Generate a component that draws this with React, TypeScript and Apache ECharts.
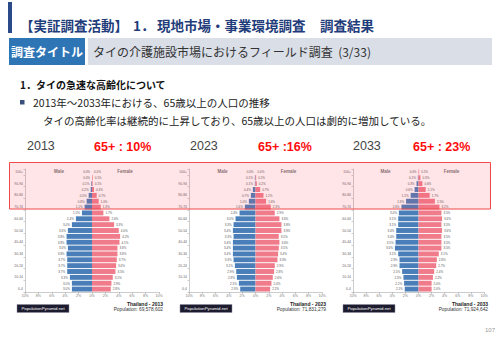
import { useEffect, useRef } from 'react';
import * as echarts from 'echarts';

// Age groups from bottom (0-4) to top (100+)
const ageGroups = ['0-4', '5-9', '10-14', '15-19', '20-24', '25-29', '30-34', '35-39', '40-44', '45-49', '50-54', '55-59', '60-64', '65-69', '70-74', '75-79', '80-84', '85-89', '90-94', '95-99', '100+'];

const years = ['2013', '2023', '2033'];
const elderlyShare = ['65+ : 10%', '65+ :16%', '65+ : 23%'];
const populations = ['69,578,602', '71,831,279', '71,924,642'];

// % of total population, bottom (0-4) to top (100+)
const male2013 = [3.0, 3.0, 3.3, 3.7, 3.7, 3.7, 3.8, 3.6, 3.8, 3.8, 3.6, 3.0, 2.4, 1.5, 1.1, 0.8, 0.5, 0.2, 0.1, 0.0, 0.0];
const female2013 = [2.8, 2.9, 3.1, 3.5, 3.6, 3.7, 3.8, 3.8, 4.1, 4.2, 4.0, 3.3, 2.6, 1.7, 1.3, 1.0, 0.7, 0.3, 0.1, 0.1, 0.0];
const male2023 = [2.3, 2.5, 2.8, 2.9, 3.1, 3.3, 3.4, 3.4, 3.4, 3.3, 3.4, 3.3, 3.0, 2.4, 1.6, 1.0, 0.7, 0.4, 0.1, 0.1, 0.0];
const female2023 = [2.2, 2.4, 2.6, 2.8, 2.9, 3.3, 3.4, 3.5, 3.6, 3.5, 3.9, 3.9, 3.6, 2.9, 2.3, 1.6, 1.2, 0.7, 0.2, 0.1, 0.0];
const male2033 = [2.1, 2.2, 2.3, 2.5, 2.9, 2.9, 3.1, 3.6, 3.5, 3.4, 3.4, 3.1, 3.1, 3.0, 2.6, 1.9, 1.2, 0.6, 0.3, 0.1, 0.0];
const female2033 = [2.0, 2.0, 2.2, 2.4, 2.7, 2.8, 3.1, 3.5, 3.5, 3.5, 3.6, 3.5, 3.6, 3.5, 3.2, 2.5, 1.7, 1.1, 0.6, 0.3, 0.1];

const maleData = [male2013, male2023, male2033];
const femaleData = [female2013, female2023, female2033];

const JP = '"Noto Sans CJK JP", "Noto Sans", sans-serif';
const LAT = '"Liberation Sans", "DejaVu Sans", sans-serif';

export default function App() {
  const ref = useRef<HTMLDivElement>(null);

  useEffect(() => {
    document.body.style.margin = '0';
    const chart = echarts.init(ref.current!, null, { renderer: 'svg' });

    const lefts = [25, 189, 353];
    const widths = [134, 133, 131];
    const gTop = 169;
    const gHeight = 123;

    const grids: any[] = [];
    const xAxes: any[] = [];
    const yAxes: any[] = [];
    const series: any[] = [];
    const graphics: any[] = [];

    const MALE = '#4a7eb8';
    const FEMALE = '#f07b8b';

    years.forEach((yr, i) => {
      grids.push({ left: lefts[i], top: gTop, width: widths[i], height: gHeight, containLabel: false });
      xAxes.push({
        type: 'value', gridIndex: i, min: -10, max: 10, interval: 2,
        axisLine: { show: true, lineStyle: { color: '#aaa', width: 0.6 } },
        axisTick: { show: true, length: 2, lineStyle: { color: '#aaa', width: 0.6 } },
        splitLine: { show: false },
        axisLabel: { fontSize: 3.6, color: '#777', margin: 2, fontFamily: LAT, formatter: (v: number) => Math.abs(v) + '%' },
      });
      yAxes.push({
        type: 'category', gridIndex: i, data: ageGroups,
        axisLine: { show: true, onZero: false, lineStyle: { color: '#aaa', width: 0.6 } },
        axisTick: { show: true, length: 1.5, lineStyle: { color: '#aaa', width: 0.6 } },
        axisLabel: { fontSize: 3.4, color: '#666', margin: 2, fontFamily: LAT },
      });
      series.push({
        type: 'bar', name: 'Male', xAxisIndex: i, yAxisIndex: i,
        data: maleData[i].map((v) => -v),
        barGap: '-100%', barCategoryGap: '16%',
        itemStyle: { color: MALE },
        label: { show: true, position: 'left', distance: 2, fontSize: 3, color: '#555', fontFamily: LAT,
          formatter: (p: any) => Math.abs(p.value).toFixed(1) + '%' },
      });
      series.push({
        type: 'bar', name: 'Female', xAxisIndex: i, yAxisIndex: i,
        data: femaleData[i],
        barGap: '-100%', barCategoryGap: '16%',
        itemStyle: { color: FEMALE },
        label: { show: true, position: 'right', distance: 2, fontSize: 3, color: '#555', fontFamily: LAT,
          formatter: (p: any) => Number(p.value).toFixed(1) + '%' },
      });

      const center = lefts[i] + widths[i] / 2;
      const right = lefts[i] + widths[i];
      graphics.push({ type: 'text', z: 50, style: { text: 'Male', x: center - 33, y: 171, font: `bold 4.5px ${LAT}`, fill: '#777', textAlign: 'center', textVerticalAlign: 'middle' } });
      graphics.push({ type: 'text', z: 50, style: { text: 'Female', x: center + 33, y: 171, font: `bold 4.5px ${LAT}`, fill: '#777', textAlign: 'center', textVerticalAlign: 'middle' } });
      const bx = [17, 180, 343][i];
      graphics.push({ type: 'rect', z: 50, shape: { x: bx, y: 304.5, width: 52, height: 8 }, style: { fill: '#1c1c2e', stroke: '#8a8aa0', lineWidth: 0.5 } });
      graphics.push({ type: 'text', z: 51, style: { text: 'PopulationPyramid.net', x: bx + 26, y: 308.5, font: `4.3px ${LAT}`, fill: '#fff', textAlign: 'center', textVerticalAlign: 'middle' } });
      graphics.push({ type: 'text', z: 50, style: { text: 'Thailand - ' + yr, x: right + 4, y: 304, font: `bold 5px ${LAT}`, fill: '#222', textAlign: 'right', textVerticalAlign: 'middle' } });
      graphics.push({ type: 'text', z: 50, style: { text: 'Population: ' + populations[i], x: right + 4, y: 309.5, font: `4.8px ${LAT}`, fill: '#333', textAlign: 'right', textVerticalAlign: 'middle' } });
    });

    const yearX = [27, 190, 353];
    const shareX = [94, 258, 413];
    years.forEach((yr, i) => {
      graphics.push({ type: 'text', z: 50, style: { text: yr, x: yearX[i], y: 146, font: `12.5px ${LAT}`, fill: '#444', textVerticalAlign: 'middle' } });
      graphics.push({ type: 'text', z: 50, style: { text: elderlyShare[i], x: shareX[i], y: 147, font: `bold 12.5px ${LAT}`, fill: '#ff0d0d', textVerticalAlign: 'middle' } });
    });

    graphics.push({ type: 'rect', z: 100, shape: { x: 9.5, y: 162.5, width: 481, height: 46.5 }, style: { fill: 'rgba(255,70,90,0.14)', stroke: '#f04848', lineWidth: 1 } });

    // header
    graphics.push({ type: 'rect', z: 50, shape: { x: 8, y: 2, width: 4, height: 31 }, style: { fill: '#2b4a8a' } });
    const titleFont = `bold 13.5px ${JP}`;
    graphics.push({ type: 'text', z: 50, style: { text: '【実証調査活動】', x: 20, y: 25, font: titleFont, fill: '#1f3d7a', textVerticalAlign: 'middle' } });
    graphics.push({ type: 'text', z: 50, style: { text: '1．', x: 133, y: 25, font: titleFont, fill: '#1f3d7a', textVerticalAlign: 'middle' } });
    graphics.push({ type: 'text', z: 50, style: { text: '現地市場・事業環境調査', x: 157, y: 25, font: titleFont, fill: '#1f3d7a', textVerticalAlign: 'middle' } });
    graphics.push({ type: 'text', z: 50, style: { text: '調査結果', x: 320, y: 25, font: titleFont, fill: '#1f3d7a', textVerticalAlign: 'middle' } });
    graphics.push({ type: 'rect', z: 50, shape: { x: 9, y: 38, width: 76, height: 27 }, style: { fill: '#2e75b6' } });
    graphics.push({ type: 'text', z: 51, style: { text: '調査タイトル', x: 47, y: 51.5, font: `bold 12px ${JP}`, fill: '#fff', textAlign: 'center', textVerticalAlign: 'middle' } });
    graphics.push({ type: 'rect', z: 50, shape: { x: 88, y: 38, width: 404, height: 27 }, style: { fill: '#d9dee7' } });
    graphics.push({ type: 'text', z: 51, style: { text: 'タイの介護施設市場におけるフィールド調査  (3/33)', x: 93, y: 51.5, font: `12px ${JP}`, fill: '#333', textVerticalAlign: 'middle' } });

    graphics.push({ type: 'text', z: 50, style: { text: '1．タイの急速な高齢化について', x: 20, y: 84, font: `bold 10px ${JP}`, fill: '#111', textVerticalAlign: 'middle' } });
    graphics.push({ type: 'rect', z: 50, shape: { x: 20, y: 100, width: 4.5, height: 4.5 }, style: { fill: '#3a4f7a' } });
    graphics.push({ type: 'text', z: 50, style: { text: '2013年～2033年における、65歳以上の人口の推移', x: 33, y: 102, font: `10.5px ${JP}`, fill: '#222', textVerticalAlign: 'middle' } });
    graphics.push({ type: 'text', z: 50, style: { text: 'タイの高齢化率は継続的に上昇しており、65歳以上の人口は劇的に増加している。', x: 43, y: 120, font: `10.5px ${JP}`, fill: '#222', textVerticalAlign: 'middle' } });

    graphics.push({ type: 'text', z: 50, style: { text: '107', x: 495, y: 330, font: `6px ${LAT}`, fill: '#999', textAlign: 'right', textVerticalAlign: 'middle' } });

    chart.setOption({
      animation: false,
      backgroundColor: '#fff',
      grid: grids,
      xAxis: xAxes,
      yAxis: yAxes,
      series,
      graphic: { elements: graphics },
    });

    return () => chart.dispose();
  }, []);

  return <div ref={ref} style={{ width: 500, height: 346 }} />;
}
